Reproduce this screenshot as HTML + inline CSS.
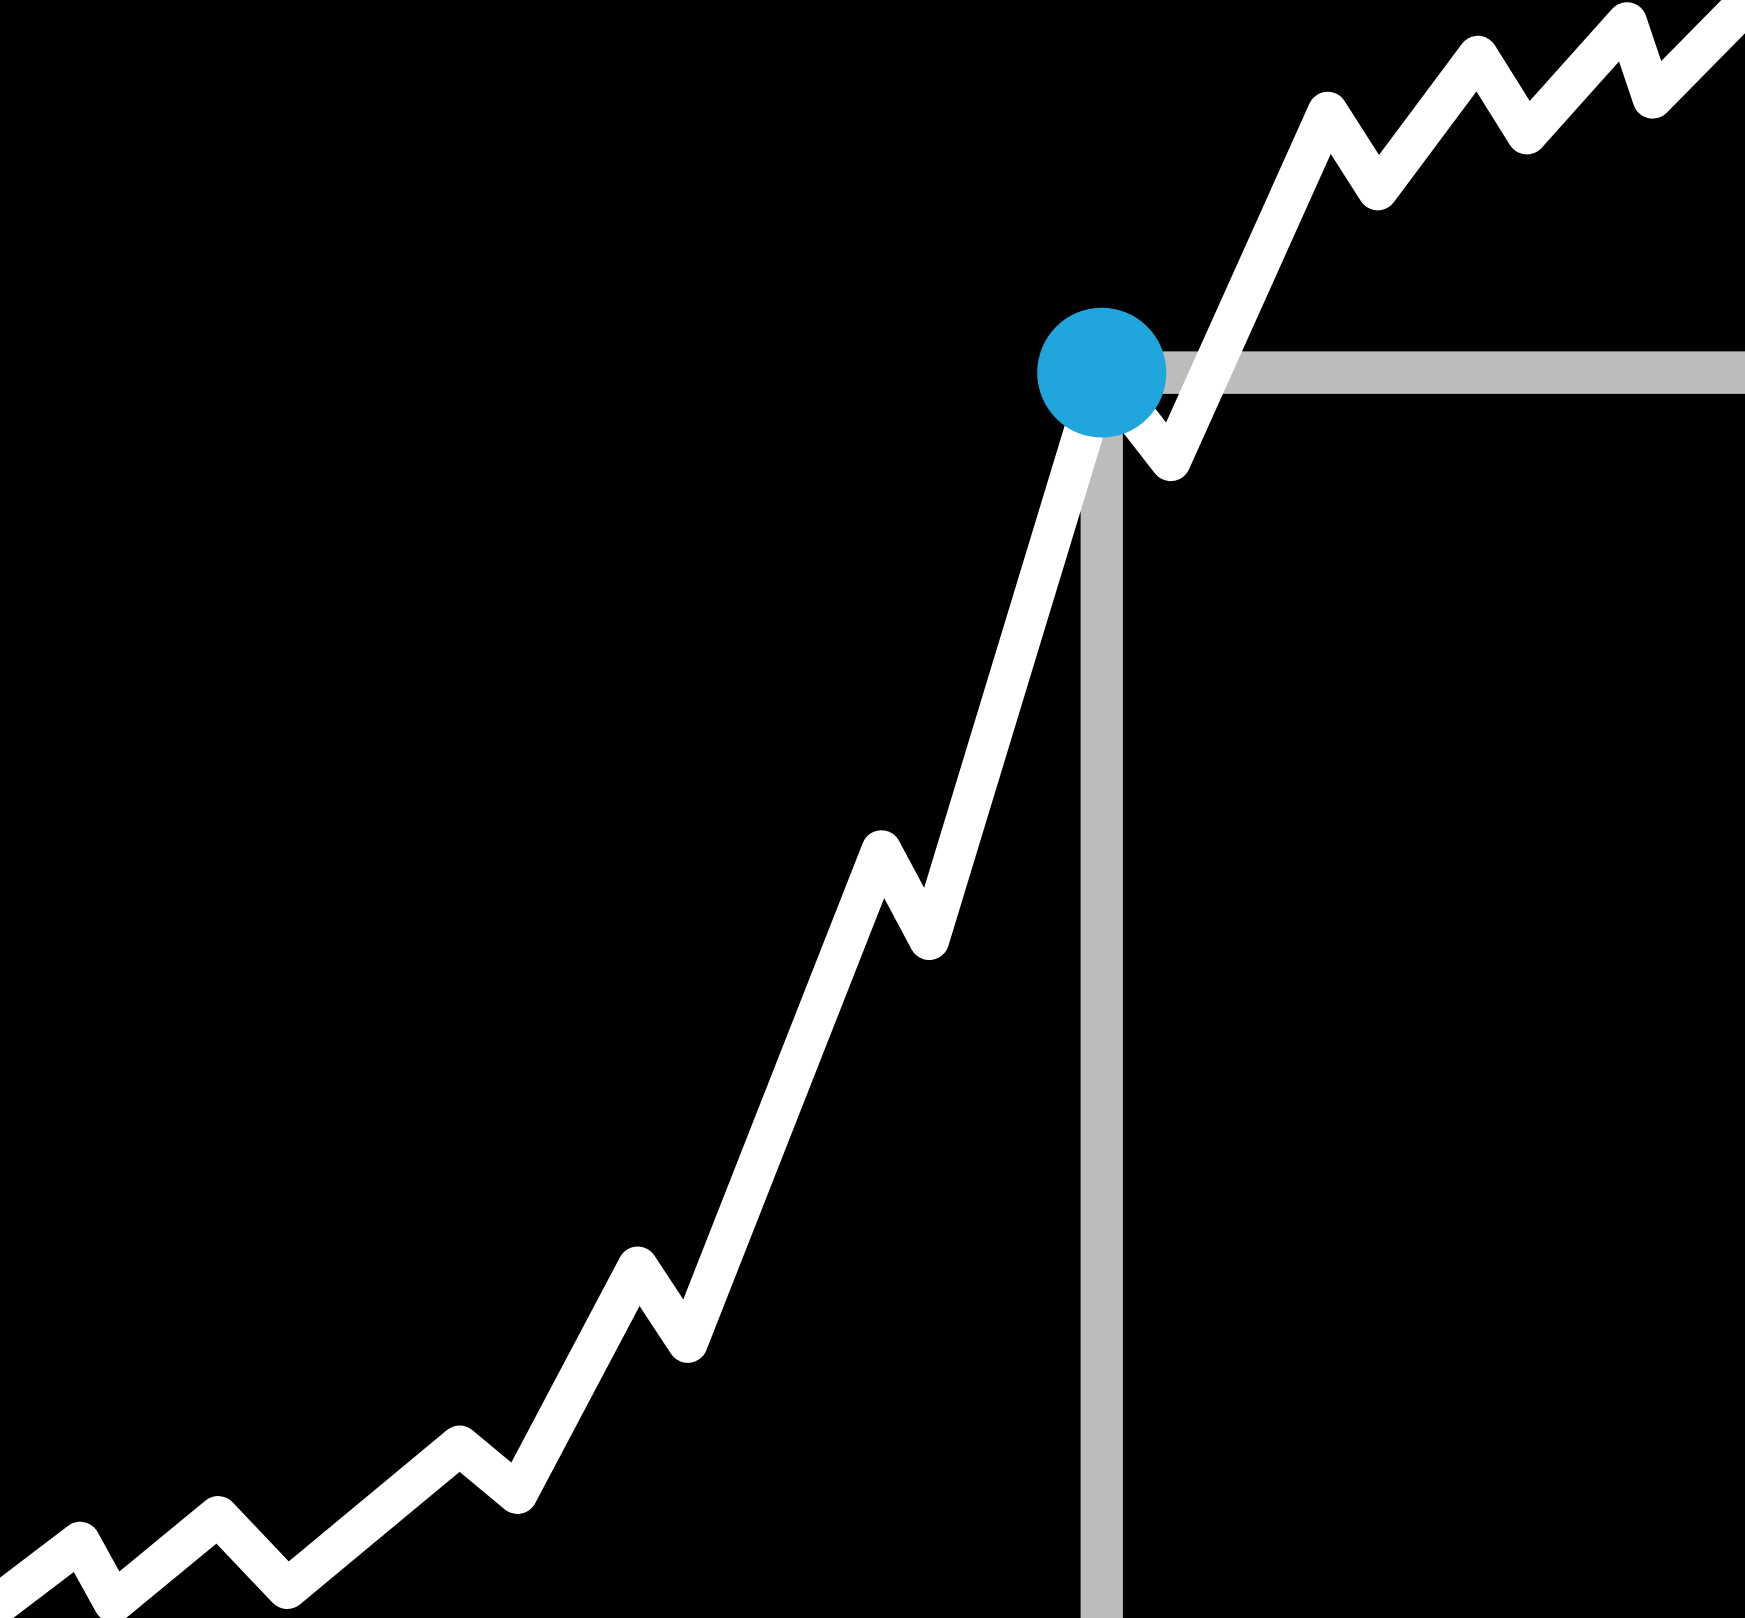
<!DOCTYPE html>
<html>
<head>
<meta charset="utf-8">
<style>
  html,body{margin:0;padding:0;background:#000;}
  #chart{display:block;width:1745px;height:1618px;background:#000;}
</style>
</head>
<body>
<svg id="chart" viewBox="0 0 1568 1446" preserveAspectRatio="none" xmlns="http://www.w3.org/2000/svg">
  <g id="guides"></g>
  <g id="series"></g>
</svg>
<script>
// Data: x = time units, values = level units
const xs = [-10, 72, 102, 196, 258, 413, 465, 573, 618, 792, 835, 990, 1052, 1193, 1238, 1328, 1372, 1462, 1485, 1580];
const values = [1440, 1378, 1432, 1355, 1420, 1292, 1335, 1132, 1200, 760, 840, 333, 412, 100, 170, 50, 120, 20, 88, -8];
const markerX = 990;
const markerY = 333;

// Axis functions (identity-scaled domain into plot coordinates)
const xDomain = [0, 1568], xRange = [0, 1568];
const yDomain = [0, 1446], yRange = [0, 1446];
function xScale(v){ return xRange[0] + (v - xDomain[0]) / (xDomain[1] - xDomain[0]) * (xRange[1] - xRange[0]); }
function yScale(v){ return yRange[0] + (v - yDomain[0]) / (yDomain[1] - yDomain[0]) * (yRange[1] - yRange[0]); }

const NS = "http://www.w3.org/2000/svg";
const guides = document.getElementById('guides');
const series = document.getElementById('series');

const mx = xScale(markerX), my = yScale(markerY);

const vLine = document.createElementNS(NS, 'line');


vLine.setAttribute('x1', mx); vLine.setAttribute('y1', my);
vLine.setAttribute('x2', mx); vLine.setAttribute('y2', 1460);
vLine.setAttribute('stroke', '#bcbcba'); vLine.setAttribute('stroke-width', 38);
guides.appendChild(vLine);

const hLine = document.createElementNS(NS, 'line');


hLine.setAttribute('x1', mx); hLine.setAttribute('y1', my);
hLine.setAttribute('x2', 1580); hLine.setAttribute('y2', my);
hLine.setAttribute('stroke', '#bcbcba'); hLine.setAttribute('stroke-width', 38);
guides.appendChild(hLine);

const pts = xs.map((x, i) => xScale(x) + ',' + yScale(values[i])).join(' ');
const line = document.createElementNS(NS, 'polyline');


line.setAttribute('points', pts);
line.setAttribute('fill', 'none');
line.setAttribute('stroke', '#ffffff');
line.setAttribute('stroke-width', 36);
line.setAttribute('stroke-linejoin', 'round');
line.setAttribute('stroke-linecap', 'butt');
series.appendChild(line);

const dot = document.createElementNS(NS, 'circle');


dot.setAttribute('cx', mx); dot.setAttribute('cy', my);
dot.setAttribute('r', 58);
dot.setAttribute('fill', '#21a5dd');
series.appendChild(dot);
</script>
</body>
</html>
